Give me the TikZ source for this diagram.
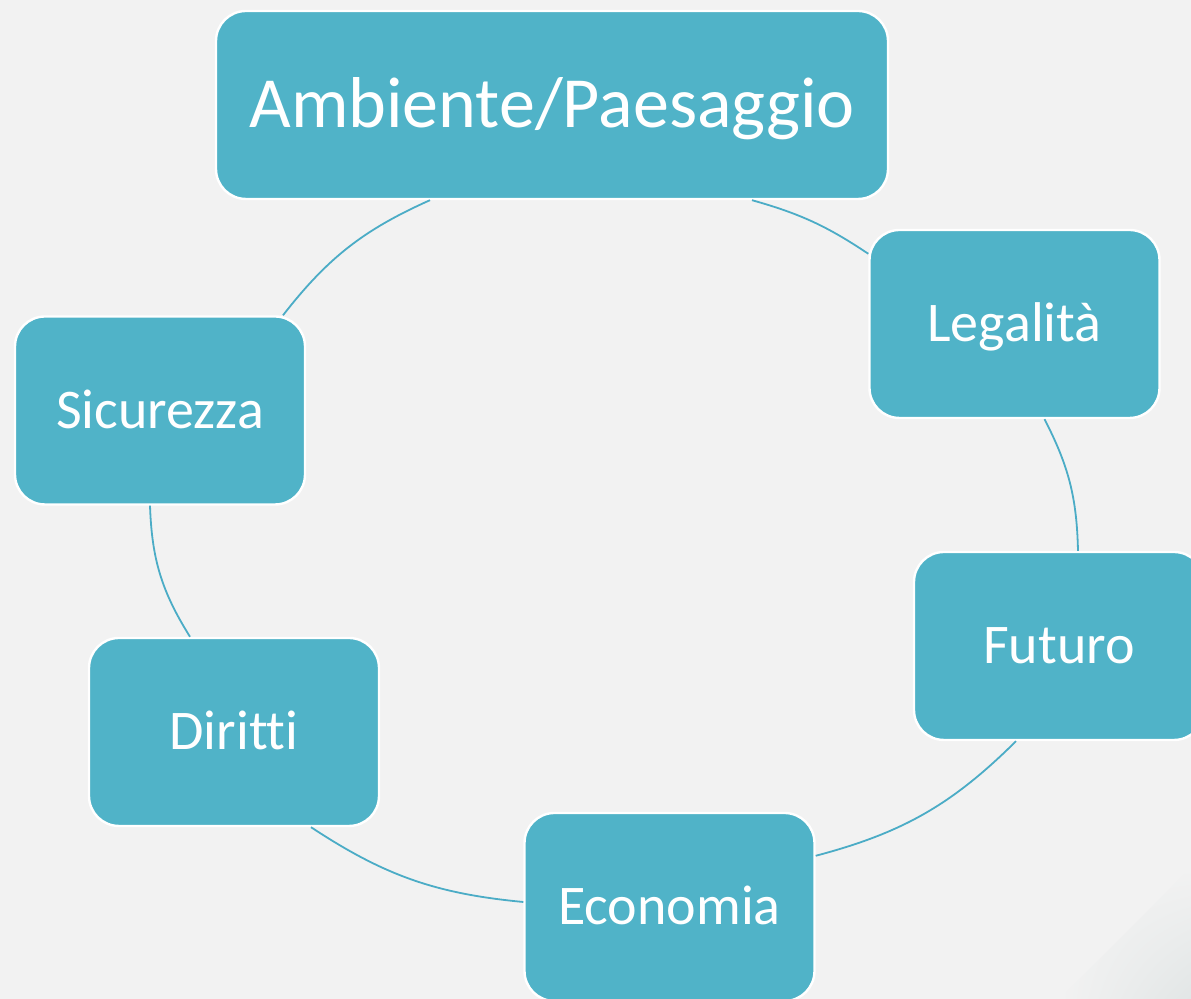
\documentclass[tikz,border=0pt]{standalone}
\usepackage{fontspec}
\setmainfont{Carlito}[Ligatures=NoCommon]
\usetikzlibrary{calc,shadings}

\definecolor{slidebg}{HTML}{F2F2F2}
\definecolor{slidecorner}{HTML}{E2E6E6}
\definecolor{boxteal}{HTML}{50B3C8}
\definecolor{lineteal}{HTML}{4BACC6}

\begin{document}
\begin{tikzpicture}[x=0.5pt,y=0.5pt]
      % Define styles for nodes
      \tikzstyle{topic} = [draw=white, fill=boxteal, rectangle, rounded corners=15pt,
      line width=1.2pt, minimum width=145pt, minimum height=94pt,
      text=white, font=\fontsize{28}{30}\selectfont,
      text height=17.7pt, text depth=0pt]
      \tikzstyle{maintopic} = [topic, minimum width=336pt,
      font=\fontsize{36}{40}\selectfont, text height=22.8pt]
      \tikzstyle{link} = [draw=lineteal, line width=0.9pt]

      % Slide background
      \fill[slidebg] (0,0) rectangle (1191,999);
      \shade[upper left=slidebg, upper right=slidebg, lower left=slidebg,
      lower right=slidecorner] (1060,0) -- (1191,0) -- (1191,131) -- cycle;
      \useasboundingbox (0,0) rectangle (1191,999);

      % Boxes round the cycle
      \node[maintopic] (ambiente) at (552,894) {Ambiente/Paesaggio};
      \node[topic] (legalita) at (1014.5,675) {Legalità};
      \node[topic] (futuro) at (1059,353) {Futuro};
      \node[topic] (economia) at (669.5,92) {Economia};
      \node[topic] (diritti) at (234,267) {Diritti};
      \node[topic] (sicurezza) at (160,588.5) {Sicurezza};

      % Connections
      \draw[link] ([xshift=100pt]ambiente.south) to[bend left=9] ([yshift=-12.5pt]legalita.north west);
      \draw[link] ([xshift=15pt]legalita.south) to[bend left=13] ([xshift=9.5pt]futuro.north);
      \draw[link] ([xshift=-21.5pt]futuro.south) to[bend left=15] ([yshift=-22pt]economia.north east);
      \draw[link] ([yshift=2.5pt]economia.west) to[bend left=14] ([xshift=38.5pt]diritti.south);
      \draw[link] ([xshift=-22pt]diritti.north) to[bend left=15] ([xshift=-5pt]sicurezza.south);
      \draw[link] ([xshift=61.5pt]sicurezza.north) to[bend left=14] ([xshift=-61pt]ambiente.south);
\end{tikzpicture}
\end{document}
